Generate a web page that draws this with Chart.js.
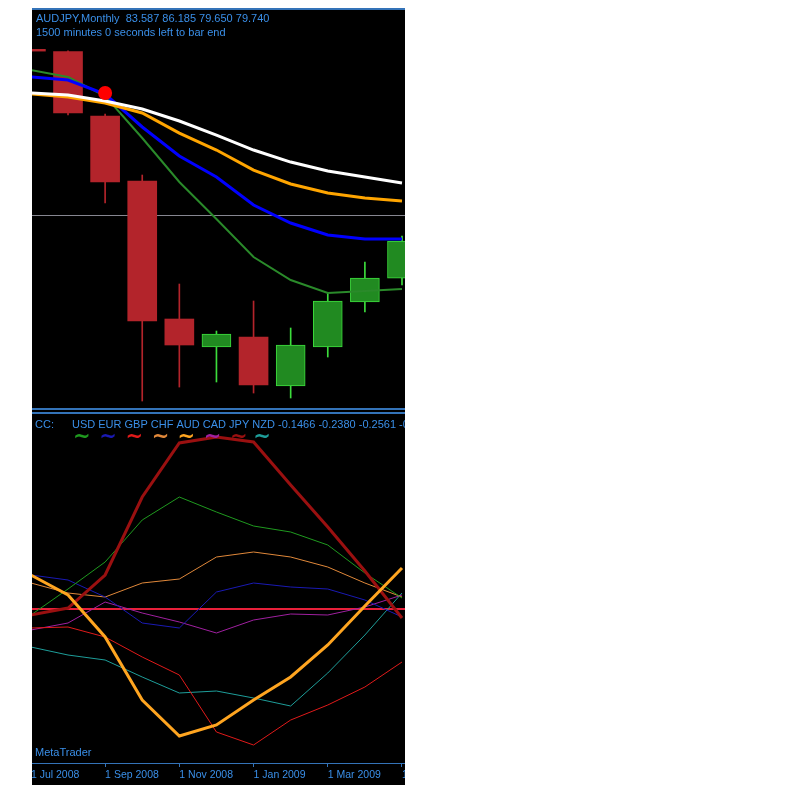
<!DOCTYPE html>
<html>
<head>
<meta charset="utf-8">
<script src="https://cdn.jsdelivr.net/npm/chart.js@4.4.1/dist/chart.umd.min.js"></script>
<style>
  html, body { margin: 0; padding: 0; background: #fff; }
  body { width: 800px; height: 800px; position: relative; overflow: hidden;
         font-family: "Liberation Sans", Arial, sans-serif; }
  #terminal { position: absolute; left: 32px; top: 8px; width: 373px; height: 777px;
              background: #000; overflow: hidden; }
  #terminal canvas { position: absolute; left: 0; display: block; }
  .frame { position: absolute; left: 0; width: 373px; background: #3473b8; }
  .txt { position: absolute; color: #3a8fe8; font-size: 11px; line-height: 13px; white-space: nowrap; }
  .ccy { position: relative; display: inline-block; }
  .wave { position: absolute; left: 1px; top: 7px; font-size: 21px; font-weight: bold; line-height: 22px;
          font-family: "DejaVu Sans", sans-serif; }
</style>
</head>
<body>
<div id="terminal">
  <div class="frame" style="top:0;height:2px"></div>
  <canvas id="priceChart" width="373" height="398" style="top:2px"></canvas>
  <div class="frame" style="top:400px;height:2px"></div>
  <div class="frame" style="top:404px;height:2px"></div>
  <canvas id="strengthChart" width="373" height="371" style="top:406px"></canvas>
  <div class="txt" style="left:4px;top:4px">AUDJPY,Monthly&nbsp; 83.587 86.185 79.650 79.740</div>
  <div class="txt" style="left:4px;top:18px">1500 minutes 0 seconds left to bar end</div>
  <div class="txt" id="legend" style="left:3px;top:410px"></div>
  <div class="txt" style="left:3px;top:738px">MetaTrader</div>
</div>

<script>
// month index 0 = Jul 2008 ... 10 = May 2009
const months = ['Jul 2008', 'Aug 2008', 'Sep 2008', 'Oct 2008', 'Nov 2008', 'Dec 2008',
                'Jan 2009', 'Feb 2009', 'Mar 2009', 'Apr 2009', 'May 2009'];
const tickMonths = [0, 2, 4, 6, 8, 10];
const tickLabels = ['1 Jul 2008', '1 Sep 2008', '1 Nov 2008', '1 Jan 2009', '1 Mar 2009', '1 May 2009'];

// AUDJPY monthly candles
const open  = [103.60, 103.30, 94.33, 85.30, 66.14, 62.25, 63.64, 56.83, 62.25, 68.50, 71.83];
const high  = [104.20, 103.40, 94.60, 86.14, 71.00, 64.47, 68.64, 64.89, 69.75, 74.06, 77.67];
const low   = [102.90, 94.47, 82.25, 54.75, 56.69, 57.39, 55.86, 55.17, 60.86, 67.11, 70.86];
const close = [103.35, 94.75, 85.17, 65.86, 62.53, 64.06, 56.97, 62.53, 68.64, 71.83, 76.97];

// moving averages
const maWhite  = [97.53, 97.25, 96.42, 95.31, 93.64, 91.69, 89.61, 87.94, 86.69, 85.86, 85.03];
const maOrange = [97.39, 96.97, 96.14, 94.75, 91.97, 89.61, 86.83, 84.89, 83.64, 82.94, 82.53];
const maBlue   = [99.75, 99.33, 97.39, 92.81, 88.78, 85.86, 81.97, 79.47, 77.81, 77.25, 77.25];
const maGreen  = [100.72, 99.75, 97.11, 91.28, 85.17, 80.03, 74.75, 71.56, 69.75, 70.03, 70.31];

const signalMonth = [2];
const signalPrice = [97.53];
const bidLevel = 80.5;

// currency strength indicator (CC)
const currencies = ['USD', 'EUR', 'GBP', 'CHF', 'AUD', 'CAD', 'JPY', 'NZD'];
const usd = [-0.030, 0.100, 0.235, 0.445, 0.560, 0.485, 0.415, 0.385, 0.320, 0.180, 0.055];
const eur = [0.170, 0.145, 0.060, -0.070, -0.095, 0.085, 0.130, 0.110, 0.100, 0.045, -0.040];
const gbp = [-0.095, -0.090, -0.140, -0.240, -0.330, -0.615, -0.680, -0.555, -0.480, -0.390, -0.265];
const chf = [0.130, 0.080, 0.060, 0.130, 0.150, 0.260, 0.285, 0.260, 0.210, 0.130, 0.060];
const aud = [0.170, 0.070, -0.140, -0.455, -0.635, -0.580, -0.455, -0.340, -0.180, 0.015, 0.205];
const cad = [-0.105, -0.070, 0.035, -0.020, -0.065, -0.120, -0.055, -0.025, -0.030, 0.010, 0.070];
const jpy = [-0.030, 0.005, 0.170, 0.560, 0.830, 0.860, 0.835, 0.620, 0.410, 0.190, -0.045];
const nzd = [-0.190, -0.230, -0.255, -0.340, -0.420, -0.410, -0.445, -0.485, -0.320, -0.130, 0.080];
const legendValues = ['-0.1466', '-0.2380', '-0.2561', '-0'];

const ccyColors = {
    USD: '#1f9a1f', EUR: '#1a1ab4', GBP: '#e01a1a', CHF: '#e0883a',
    AUD: '#ffa520', CAD: '#a020a0', JPY: '#9a1010', NZD: '#1e9e9a'
};

const X_MIN = 0.0296;
const X_MAX = 10.081;
const TEXT_BLUE = '#3a8fe8';
const FRAME_BLUE = '#3473b8';
const ZERO_RED = '#e8203a';

Chart.defaults.font.family = '"Liberation Sans", Arial, sans-serif';

function points(values) {
    return values.map((v, i) => ({ x: i, y: v }));
}

function lineSet(label, values, color, width, order) {
    return {
        type: 'line',
        label: label,
        data: points(values),
        borderColor: color,
        borderWidth: width,
        pointRadius: 0,
        tension: 0,
        order: order
    };
}

const red = '#b3242b';
const greenFill = '#218a21';
const lime = '#3cdc3c';
const isUp = open.map((o, i) => close[i] >= o);

new Chart(document.getElementById('priceChart'), {
    type: 'bar',
    data: {
        datasets: [
            {
                type: 'line',
                label: 'signal',
                data: signalMonth.map((m, i) => ({ x: m, y: signalPrice[i] })),
                showLine: false,
                pointRadius: 7,
                pointBackgroundColor: '#ff0000',
                pointBorderWidth: 0,
                order: 0
            },
            lineSet('MA white', maWhite, '#ffffff', 3, 1),
            lineSet('MA orange', maOrange, '#ffa500', 3, 2),
            lineSet('MA blue', maBlue, '#0000ff', 3, 3),
            lineSet('MA green', maGreen, '#2a8a2a', 2, 4),
            {
                label: 'body',
                data: months.map((m, i) => ({ x: i, y: [open[i], close[i]] })),
                backgroundColor: isUp.map(u => u ? greenFill : red),
                borderColor: isUp.map(u => u ? lime : red),
                borderWidth: isUp.map(u => u ? 1 : 0),
                borderSkipped: false,
                barThickness: 29,
                grouped: false,
                order: 10
            },
            {
                label: 'wick',
                data: months.map((m, i) => ({ x: i, y: [low[i], high[i]] })),
                backgroundColor: isUp.map(u => u ? lime : red),
                barThickness: 1,
                grouped: false,
                order: 11
            }
        ]
    },
    options: {
        responsive: false,
        animation: false,
        layout: { padding: 0, autoPadding: false },
        plugins: { legend: { display: false }, tooltip: { enabled: false } },
        scales: {
            x: { type: 'linear', display: false, min: X_MIN, max: X_MAX, offset: false },
            y: {
                min: 53.78,
                max: 109.06,
                ticks: { display: false },
                border: { display: false },
                grid: { color: '#868690', drawTicks: false },
                afterBuildTicks: s => { s.ticks = [{ value: bidLevel }]; },
                afterFit: s => { s.width = 0; s.paddingTop = 0; s.paddingBottom = 0; }
            }
        }
    }
});

const series = { USD: usd, EUR: eur, GBP: gbp, CHF: chf, AUD: aud, CAD: cad, JPY: jpy, NZD: nzd };
const thick = { AUD: 3, JPY: 3 };
const drawOrder = { AUD: 0, JPY: 1 };

new Chart(document.getElementById('strengthChart'), {
    type: 'line',
    data: {
        datasets: currencies.map((c, i) =>
            lineSet(c, series[c], ccyColors[c], thick[c] || 1, drawOrder[c] !== undefined ? drawOrder[c] : i + 2))
    },
    options: {
        responsive: false,
        animation: false,
        layout: { padding: 0, autoPadding: false },
        plugins: { legend: { display: false }, tooltip: { enabled: false } },
        scales: {
            x: {
                type: 'linear',
                min: X_MIN,
                max: X_MAX,
                offset: false,
                position: 'bottom',
                grid: { drawOnChartArea: false, drawTicks: true, tickLength: 4, color: FRAME_BLUE },
                border: { color: FRAME_BLUE, width: 1 },
                ticks: {
                    align: 'start',
                    color: TEXT_BLUE,
                    font: { size: 10.5 },
                    padding: 2,
                    autoSkip: false,
                    maxRotation: 0,
                    callback: (v, i) => tickLabels[i]
                },
                afterBuildTicks: s => { s.ticks = tickMonths.map(m => ({ value: m })); },
                afterFit: s => { s.height = 22; s.paddingLeft = 0; s.paddingRight = 0; }
            },
            y: {
                min: -0.77,
                max: 0.975,
                ticks: { display: false },
                border: { display: false },
                grid: { color: () => ZERO_RED, lineWidth: 2, drawTicks: false },
                afterBuildTicks: s => { s.ticks = [{ value: 0 }]; },
                afterFit: s => { s.width = 0; s.paddingTop = 0; s.paddingBottom = 0; }
            }
        }
    }
});

// indicator legend: names with their line colour wave underneath
const legend = document.getElementById('legend');
legend.innerHTML = 'CC:<span style="display:inline-block;width:18px"></span>' +
    currencies.map(c => `<span class="ccy">${c}<span class="wave" style="color:${ccyColors[c]}">~</span></span>`).join(' ') +
    ' ' + legendValues.join(' ');
</script>
</body>
</html>
